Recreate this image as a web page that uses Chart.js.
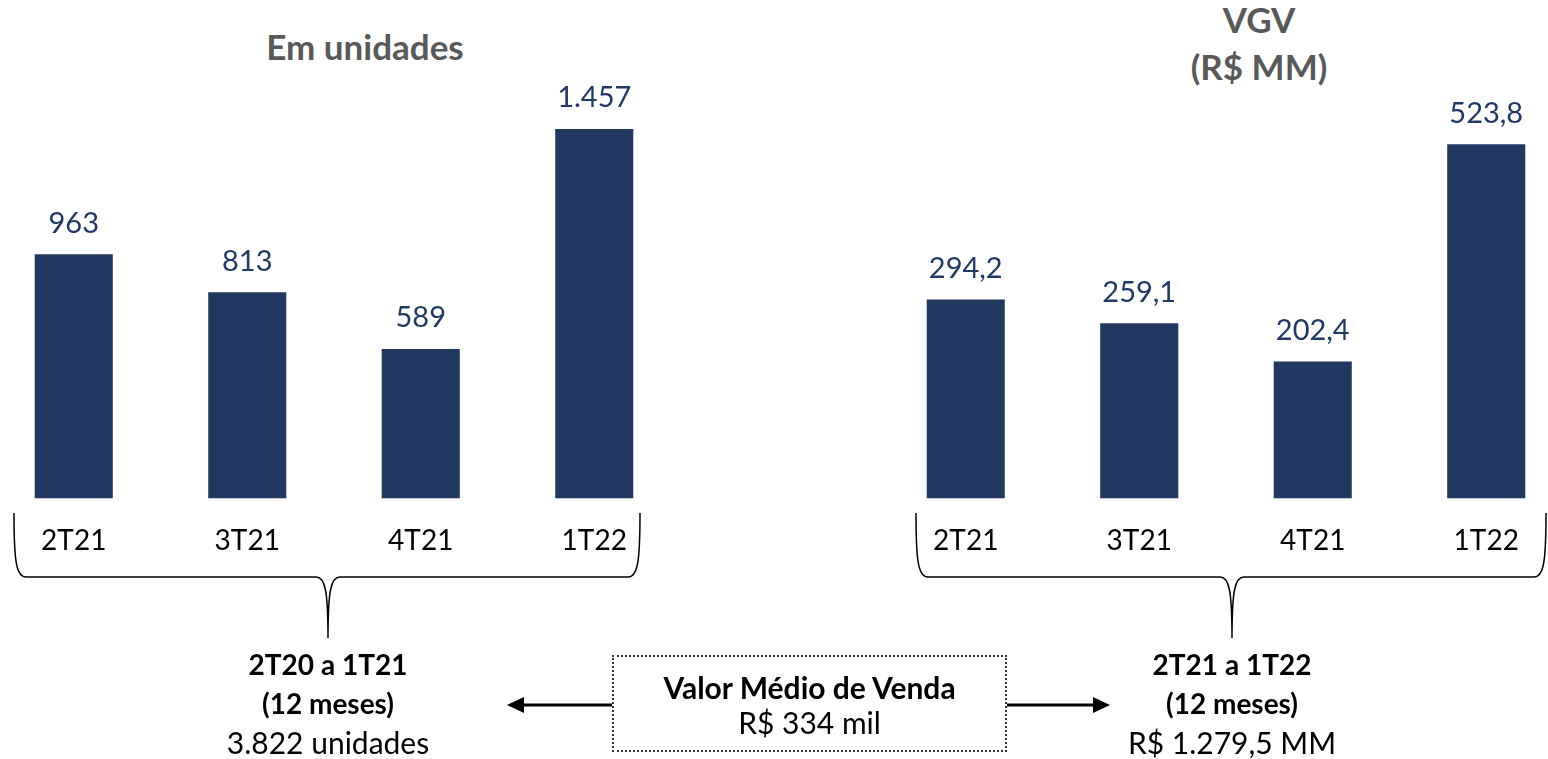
<!DOCTYPE html>
<html>
<head>
<meta charset="utf-8">
<script src="https://cdn.jsdelivr.net/npm/chart.js@4.4.1/dist/chart.umd.min.js"></script>
<style>
  html, body { margin: 0; padding: 0; background: #fff; width: 1548px; height: 759px; overflow: hidden; }
  body { position: relative; font-family: Lato, "Open Sans", sans-serif; }
  .abs { position: absolute; }
  .title { color: #595959; font-weight: bold; font-size: 35px; text-align: center; line-height: 47px; }
  .note { text-align: center; color: #000; font-size: 28px; line-height: 39px; white-space: nowrap; }
  .note .reg { font-size: 30px; }
  #box { left: 612px; top: 655px; width: 395px; height: 97px; border: 2px dotted #333; box-sizing: border-box;
         text-align: center; font-size: 30px; line-height: 35px; padding-top: 13px; white-space: nowrap; }
</style>
</head>
<body>
<div class="abs title" style="left:215px; top:23px; width:300px;">Em unidades</div>
<div class="abs title" style="left:1109px; top:-4px; width:300px;">VGV<br>(R$ MM)</div>

<div class="abs" style="left:-13px; top:0; width:694px; height:576px;"><canvas id="units"></canvas></div>
<div class="abs" style="left:879px; top:0; width:694px; height:576px;"><canvas id="vgv"></canvas></div>

<svg class="abs" style="left:0; top:0;" width="1548" height="759">
  <g fill="none" stroke="#000" stroke-width="1.5">
    <path d="M14,513 C14,560 16,577 26,577 L316,577 C325,577 328,590 328,638 M640,513 C640,560 638,577 628,577 L340,577 C331,577 328,590 328,638"/>
    <path d="M916,513 C916,560 918,577 928,577 L1220,577 C1229,577 1232,590 1232,638 M1546,513 C1546,560 1544,577 1534,577 L1244,577 C1235,577 1232,590 1232,638"/>
  </g>
  <g stroke="#000" stroke-width="3">
    <line x1="612" y1="705" x2="522" y2="705"/>
    <line x1="1007" y1="705" x2="1095" y2="705"/>
  </g>
  <polygon points="507,705 524,697 524,713" fill="#000"/>
  <polygon points="1110,705 1093,697 1093,713" fill="#000"/>
</svg>

<div class="abs note" style="left:178px; top:645px; width:300px;"><b>2T20 a 1T21</b><br><b>(12 meses)</b><br><span class="reg">3.822 unidades</span></div>
<div class="abs note" style="left:1082px; top:645px; width:300px;"><b>2T21 a 1T22</b><br><b>(12 meses)</b><br><span class="reg">R$ 1.279,5 MM</span></div>
<div id="box" class="abs"><b>Valor Médio de Venda</b><br>R$ 334 mil</div>

<script>
// data
var quarters = ["2T21", "3T21", "4T21", "1T22"];
var unitsSold = [963, 813, 589, 1457];
var vgvValues = [294.2, 259.1, 202.4, 523.8];

var barColor = "#213961";
var labelColor = "#203864";

function fmtUnits(v) {
    return String(v).replace(/\B(?=(\d{3})+(?!\d))/g, ".");
}
function fmtVgv(v) {
    return v.toFixed(1).replace(".", ",");
}

// value labels above bars
function valueLabels(fmt) {
    return {
        id: "valueLabels",
        afterDatasetsDraw: function(chart) {
            var ctx = chart.ctx;
            var meta = chart.getDatasetMeta(0);
            ctx.save();
            ctx.fillStyle = labelColor;
            ctx.font = "29px Lato, 'Open Sans', sans-serif";
            ctx.textAlign = "center";
            ctx.textBaseline = "middle";
            meta.data.forEach(function(bar, i) {
                ctx.fillText(fmt(chart.data.datasets[0].data[i]), bar.x, bar.y - 31);
            });
            ctx.restore();
        }
    };
}

function makeChart(id, values, yMax, fmt) {
    return new Chart(document.getElementById(id), {
        type: "bar",
        data: {
            labels: quarters,
            datasets: [{
                data: values,
                backgroundColor: barColor,
                barPercentage: 0.45,
                categoryPercentage: 1
            }]
        },
        options: {
            responsive: true,
            maintainAspectRatio: false,
            animation: false,
            layout: { padding: 0 },
            plugins: { legend: { display: false }, tooltip: { enabled: false } },
            scales: {
                x: {
                    grid: { display: false },
                    border: { display: false },
                    ticks: {
                        color: "#000",
                        padding: 18,
                        maxRotation: 0,
                        autoSkip: false,
                        font: { family: "Lato, 'Open Sans', sans-serif", size: 28 }
                    }
                },
                y: { display: false, min: 0, max: yMax }
            }
        },
        plugins: [valueLabels(fmt)]
    });
}

makeChart("units", unitsSold, 1966, fmtUnits);
makeChart("vgv", vgvValues, 737, fmtVgv);
</script>
</body>
</html>
